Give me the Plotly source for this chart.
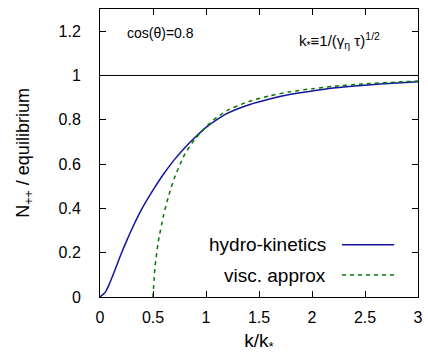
import plotly.graph_objects as go

hydro_x = [0, 0.05, 0.1, 0.15, 0.2, 0.25, 0.3, 0.35, 0.4, 0.5, 0.6, 0.7, 0.8, 0.9, 1.0, 1.1, 1.2, 1.4, 1.6, 1.8, 2.0, 2.2, 2.5, 2.8, 3.0]
hydro_y = [0, 0.022, 0.072, 0.133, 0.195, 0.252, 0.306, 0.356, 0.402, 0.482, 0.555, 0.619, 0.674, 0.722, 0.766, 0.8, 0.829, 0.867, 0.894, 0.915, 0.93, 0.943, 0.956, 0.966, 0.972]

visc_x = [0.5, 0.51, 0.52, 0.55, 0.6, 0.65, 0.7, 0.8, 0.9, 1.0, 1.1, 1.2, 1.4, 1.6, 1.8, 2.0, 2.2, 2.5, 2.8, 3.0]
visc_y = [0, 0.08, 0.14, 0.25, 0.37, 0.46, 0.535, 0.645, 0.715, 0.768, 0.81, 0.842, 0.882, 0.908, 0.927, 0.94, 0.951, 0.962, 0.97, 0.975]

x_ticks = [0, 0.5, 1, 1.5, 2, 2.5, 3]
x_labels = ["0", "0.5", "1", "1.5", "2", "2.5", "3"]
y_ticks = [0, 0.2, 0.4, 0.6, 0.8, 1.0, 1.2]
y_labels = ["0", "0.2", "0.4", "0.6", "0.8", "1", "1.2"]

blue = "#1414a0"
green = "#007800"
font = "Liberation Sans, Arial, sans-serif"

fig = go.Figure()
fig.add_trace(go.Scatter(x=hydro_x, y=hydro_y, mode="lines",
                         line=dict(color=blue, width=1.5, shape="spline", smoothing=0.8),
                         name="hydro-kinetics", showlegend=False))
fig.add_trace(go.Scatter(x=visc_x, y=visc_y, mode="lines",
                         line=dict(color=green, width=1.5, dash="4px,4px", shape="spline", smoothing=0.6),
                         name="visc. approx", showlegend=False))

# reference line at 1
fig.add_hline(y=1, line=dict(color="black", width=1))

# legend (gnuplot style: text then sample)
fig.add_annotation(xref="paper", yref="paper", x=0.717, y=0.181, text="hydro-kinetics", showarrow=False,
                   xanchor="right", yanchor="middle", font=dict(family=font, size=19, color="black"))
fig.add_annotation(xref="paper", yref="paper", x=0.717, y=0.076, text="visc. approx", showarrow=False,
                   xanchor="right", yanchor="middle", font=dict(family=font, size=19, color="black"))
fig.add_shape(type="line", xref="paper", yref="paper", x0=0.761, x1=0.925, y0=0.181, y1=0.181,
              line=dict(color=blue, width=1.5))
fig.add_shape(type="line", xref="paper", yref="paper", x0=0.761, x1=0.925, y0=0.076, y1=0.076,
              line=dict(color=green, width=1.5, dash="4px,4px"))

fig.add_annotation(xref="paper", yref="paper", x=0.079, y=0.917, text="cos(θ)=0.8", showarrow=False,
                   xanchor="left", yanchor="middle", font=dict(family=font, size=14, color="black"))
fig.add_annotation(xref="paper", yref="paper", x=0.62, y=0.89,
                   text="k<sub>*</sub>≡1/(γ<sub>η</sub> τ)<sup>1/2</sup>", showarrow=False,
                   xanchor="left", yanchor="middle", font=dict(family=font, size=15, color="black"))

axis_common = dict(showgrid=False, zeroline=False, showline=True, linecolor="black", linewidth=1,
                   mirror="allticks", ticks="inside", ticklen=6, tickcolor="black", automargin=False,
                   tickfont=dict(family=font, size=16, color="black"))

fig.update_xaxes(range=[0, 3], tickvals=x_ticks, ticktext=x_labels,
                 title=dict(text="k/k<sub>*</sub>", font=dict(family=font, size=19, color="black"), standoff=8),
                 ticklabelstandoff=6, **axis_common)
fig.update_yaxes(range=[0, 1.3], tickvals=y_ticks, ticktext=y_labels,
                 title=dict(text="N<sub>++</sub> / equilibrium", font=dict(family=font, size=18, color="black"), standoff=24),
                 ticklabelstandoff=15, **axis_common)

fig.update_layout(width=428, height=354, margin=dict(l=100, r=10, t=9, b=57, autoexpand=False),
                  plot_bgcolor="white", paper_bgcolor="white", showlegend=False)

fig.write_html("out.html", config={"displayModeBar": False},
               post_script="document.body.style.margin='0px';")
